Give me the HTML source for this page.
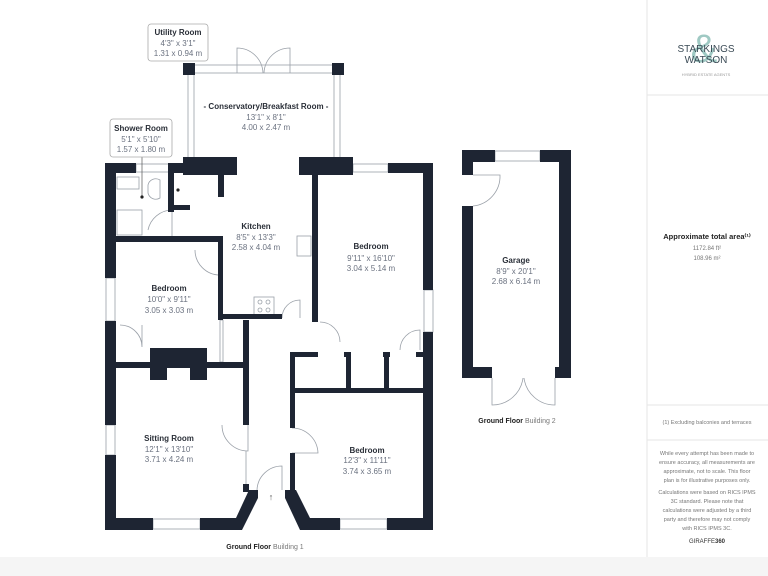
<!DOCTYPE html>
<html><head><meta charset="utf-8"><style>
html,body{margin:0;padding:0;background:#fff}
svg{display:block}
text{font-family:"Liberation Sans",sans-serif}
.t{font-size:8px;font-weight:bold;fill:#2a2f38;text-anchor:middle}
.d{font-size:8px;fill:#6b7280;text-anchor:middle}
.s{font-size:5.5px;fill:#777;text-anchor:middle}
</style></head><body>
<svg width="768" height="576" viewBox="0 0 768 576" xmlns="http://www.w3.org/2000/svg">
<rect width="768" height="576" fill="#fff"/>
<!-- right panel -->
<line x1="647" y1="0" x2="647" y2="557" stroke="#e5e5e5"/>
<line x1="647" y1="95" x2="768" y2="95" stroke="#e5e5e5"/>
<line x1="647" y1="405" x2="768" y2="405" stroke="#e5e5e5"/>
<line x1="647" y1="440" x2="768" y2="440" stroke="#e5e5e5"/>
<rect x="0" y="557" width="768" height="19" fill="#f5f5f5"/>
<text x="704" y="62" font-size="40" fill="#7fb7b0" text-anchor="middle" opacity="0.75">&amp;</text>
<text x="706" y="52" font-size="10" fill="#3a4a55" text-anchor="middle">STARKINGS</text>
<text x="706" y="63" font-size="10" fill="#3a4a55" text-anchor="middle">WATSON</text>
<text x="706" y="76" font-size="4" fill="#999" text-anchor="middle">HYBRID ESTATE AGENTS</text>
<text x="707" y="239" font-size="7.5" font-weight="bold" fill="#222" text-anchor="middle">Approximate total area⁽¹⁾</text>
<text x="707" y="250" class="s" style="font-size:6px">1172.84 ft²</text>
<text x="707" y="260" class="s" style="font-size:6px">108.96 m²</text>
<text x="707" y="424" class="s">(1) Excluding balconies and terraces</text>
<text x="707" y="455" class="s">While every attempt has been made to</text>
<text x="707" y="464" class="s">ensure accuracy, all measurements are</text>
<text x="707" y="473" class="s">approximate, not to scale. This floor</text>
<text x="707" y="482" class="s">plan is for illustrative purposes only.</text>
<text x="707" y="494" class="s">Calculations were based on RICS IPMS</text>
<text x="707" y="503" class="s">3C standard. Please note that</text>
<text x="707" y="512" class="s">calculations were adjusted by a third</text>
<text x="707" y="521" class="s">party and therefore may not comply</text>
<text x="707" y="530" class="s">with RICS IPMS 3C.</text>
<text x="707" y="543" font-size="6" fill="#333" text-anchor="middle">GIRAFFE<tspan font-weight="bold">360</tspan></text>

<g fill="none" stroke="#9aa0a8" stroke-width="0.8">
<rect x="185" y="65" width="156" height="8"/>
<line x1="188" y1="75" x2="188" y2="158"/><line x1="194" y1="75" x2="194" y2="158"/>
<line x1="334" y1="75" x2="334" y2="158"/><line x1="340" y1="75" x2="340" y2="158"/>
<rect x="136" y="164" width="34" height="8"/>
<rect x="353" y="164" width="35" height="8"/>
<rect x="106" y="278" width="9" height="43"/>
<rect x="106" y="425" width="9" height="30"/>
<rect x="424" y="290" width="9" height="42"/>
<rect x="153" y="519" width="47" height="10"/>
<rect x="340" y="519" width="47" height="10"/>
<rect x="495" y="151" width="45" height="10"/>
<path d="M237 73 L237 48 A26 26 0 0 1 263 73"/>
<path d="M290 73 L290 48 A26 26 0 0 0 264 73"/>
<path d="M195 250 A25 25 0 0 0 220 275 L220 250"/>
<path d="M282 318 A18 18 0 0 1 300 300 L300 318"/>
<path d="M120 325 A22 22 0 0 1 142 347 L142 325"/>
<path d="M222 425 A26 26 0 0 0 248 451 L248 425"/>
<path d="M292 428 A26 26 0 0 1 318 453 L292 453"/>
<path d="M257 490 A25 25 0 0 1 282 466 L282 490"/>
<path d="M320 322 A20 20 0 0 1 340 342"/>
<path d="M400 350 A20 20 0 0 1 420 330 L420 350"/>
<path d="M148 230 A25 25 0 0 1 172 210 L172 236"/>
<path d="M473 175 L500 175 A30 30 0 0 1 473 206"/>
<path d="M492 378 L492 405 A31 31 0 0 0 523 378"/>
<path d="M555 378 L555 405 A31 31 0 0 1 524 378"/>
<rect x="297" y="236" width="14" height="20"/>
<rect x="254" y="297" width="20" height="18"/>
<circle cx="260" cy="302" r="2"/><circle cx="268" cy="302" r="2"/><circle cx="260" cy="310" r="2"/><circle cx="268" cy="310" r="2"/>
<rect x="117" y="177" width="22" height="12"/>
<rect x="117" y="210" width="25" height="25"/>
<path d="M148 185 A8 8 0 0 1 160 180 L160 198 A8 8 0 0 1 148 193 Z"/>
<rect x="220" y="320" width="3" height="42"/>
<line x1="246" y1="451" x2="246" y2="490"/>
</g>
<line x1="142" y1="157" x2="142" y2="197" stroke="#555" stroke-width="0.7"/>
<circle cx="142" cy="197" r="1.6" fill="#222"/>
<circle cx="178" cy="190" r="1.6" fill="#222"/>

<g fill="#1e2533">
<rect x="183" y="63" width="12" height="12"/><rect x="332" y="63" width="12" height="12"/>
<rect x="105" y="163" width="31" height="10"/>
<rect x="170" y="163" width="13" height="10"/>
<rect x="183" y="157" width="54" height="18"/>
<rect x="299" y="157" width="54" height="18"/>
<rect x="388" y="163" width="45" height="10"/>
<rect x="105" y="163" width="11" height="115"/>
<rect x="105" y="321" width="11" height="104"/>
<rect x="105" y="455" width="11" height="75"/>
<rect x="423" y="163" width="10" height="127"/>
<rect x="423" y="332" width="10" height="198"/>
<rect x="105" y="518" width="48" height="12"/>
<rect x="200" y="518" width="36" height="12"/>
<polygon points="236,518 236,530 242,530 258,498 258,490 249,490"/>
<polygon points="285,490 285,498 300,530 310,530 310,518 296,490"/>
<rect x="300" y="518" width="40" height="12"/>
<rect x="387" y="518" width="46" height="12"/>
<rect x="168" y="163" width="6" height="49"/>
<rect x="168" y="205" width="22" height="5"/>
<rect x="116" y="236" width="107" height="6"/>
<rect x="218" y="175" width="6" height="22"/>
<rect x="218" y="236" width="5" height="84"/>
<rect x="312" y="175" width="6" height="147"/>
<rect x="218" y="314" width="64" height="5"/>
<rect x="116" y="362" width="129" height="6"/>
<rect x="150" y="348" width="57" height="20"/>
<rect x="150" y="362" width="17" height="18"/>
<rect x="190" y="362" width="17" height="18"/>
<rect x="243" y="320" width="6" height="105"/>
<rect x="243" y="484" width="6" height="8"/>
<rect x="290" y="352" width="5" height="76"/>
<rect x="290" y="453" width="5" height="37"/>
<rect x="290" y="352" width="28" height="5"/>
<rect x="344" y="352" width="7" height="5"/>
<rect x="383" y="352" width="7" height="5"/>
<rect x="416" y="352" width="7" height="5"/>
<rect x="346" y="352" width="5" height="41"/>
<rect x="384" y="352" width="5" height="41"/>
<rect x="295" y="388" width="128" height="5"/>
<rect x="462" y="150" width="33" height="12"/>
<rect x="540" y="150" width="31" height="12"/>
<rect x="462" y="150" width="11" height="25"/>
<rect x="462" y="206" width="11" height="172"/>
<rect x="559" y="150" width="12" height="228"/>
<rect x="462" y="367" width="30" height="11"/>
<rect x="555" y="367" width="16" height="11"/>
</g>

<rect x="148" y="24" width="60" height="37" rx="3" fill="#fff" stroke="#aaa" stroke-width="0.8"/>
<rect x="110" y="119" width="62" height="38" rx="3" fill="#fff" stroke="#aaa" stroke-width="0.8"/>
<text x="178" y="35" class="t">Utility Room</text>
<text x="178" y="46" class="d">4'3" x 3'1"</text>
<text x="178" y="56" class="d">1.31 x 0.94 m</text>
<text x="141" y="131" class="t">Shower Room</text>
<text x="141" y="142" class="d">5'1" x 5'10"</text>
<text x="141" y="152" class="d">1.57 x 1.80 m</text>
<text x="266" y="109" class="t">- Conservatory/Breakfast Room -</text>
<text x="266" y="120" class="d">13'1" x 8'1"</text>
<text x="266" y="130" class="d">4.00 x 2.47 m</text>
<text x="256" y="229" class="t">Kitchen</text>
<text x="256" y="240" class="d">8'5" x 13'3"</text>
<text x="256" y="250" class="d">2.58 x 4.04 m</text>
<text x="371" y="249" class="t">Bedroom</text>
<text x="371" y="261" class="d">9'11" x 16'10"</text>
<text x="371" y="271" class="d">3.04 x 5.14 m</text>
<text x="169" y="291" class="t">Bedroom</text>
<text x="169" y="302" class="d">10'0" x 9'11"</text>
<text x="169" y="313" class="d">3.05 x 3.03 m</text>
<text x="169" y="441" class="t">Sitting Room</text>
<text x="169" y="452" class="d">12'1" x 13'10"</text>
<text x="169" y="462" class="d">3.71 x 4.24 m</text>
<text x="367" y="453" class="t">Bedroom</text>
<text x="367" y="463" class="d">12'3" x 11'11"</text>
<text x="367" y="474" class="d">3.74 x 3.65 m</text>
<text x="516" y="263" class="t">Garage</text>
<text x="516" y="274" class="d">8'9" x 20'1"</text>
<text x="516" y="284" class="d">2.68 x 6.14 m</text>
<text x="271" y="500" font-size="9" fill="#555" text-anchor="middle">↑</text>
<text x="265" y="549" font-size="7" text-anchor="middle"><tspan font-weight="bold" fill="#222">Ground Floor</tspan><tspan fill="#777">  Building 1</tspan></text>
<text x="517" y="423" font-size="7" text-anchor="middle"><tspan font-weight="bold" fill="#222">Ground Floor</tspan><tspan fill="#777">  Building 2</tspan></text>
</svg>
</body></html>
